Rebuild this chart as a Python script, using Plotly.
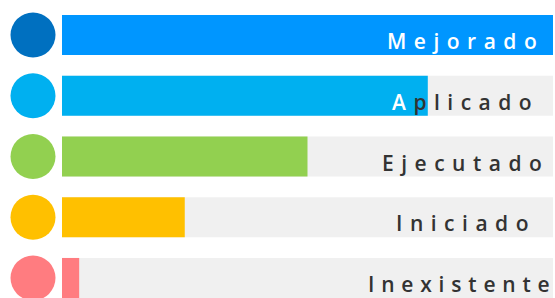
import plotly.graph_objects as go

categories = ["Mejorado", "Aplicado", "Ejecutado", "Iniciado", "Inexistente"]
values = [100, 74.5, 50, 25, 3.5]
max_value = 100
bar_colors = ["#0096ff", "#00b0f0", "#92d050", "#ffc000", "#ff7c80"]
circle_colors = ["#0070c0", "#00b0f0", "#92d050", "#ffc000", "#ff7c80"]
label_colors = ["#ffffff", "#333333", "#333333", "#333333", "#333333"]
label_spacing = [7.5, 7.5, 7.5, 7.5, 6.8]

PX_PER_UNIT = 4.91
X0 = -62 / PX_PER_UNIT
X1 = (555 - 62) / PX_PER_UNIT
CIRCLE_X = (33 - 62) / PX_PER_UNIT

fig = go.Figure()
fig.add_trace(go.Bar(
    y=categories, x=[max_value] * len(categories), orientation="h",
    marker=dict(color="#f0f0f0", line=dict(width=0)), width=0.66,
    hoverinfo="skip", showlegend=False,
))
fig.add_trace(go.Bar(
    y=categories, x=values, orientation="h",
    marker=dict(color=bar_colors, line=dict(width=0)), width=0.66,
    showlegend=False,
))
fig.add_trace(go.Scatter(
    y=categories, x=[CIRCLE_X] * len(categories), mode="markers",
    marker=dict(size=45, color=circle_colors, line=dict(width=0)),
    showlegend=False, hoverinfo="skip",
))

for cat, col, sp in zip(categories, label_colors, label_spacing):
    if cat == "Aplicado":
        txt = (f'<span style="letter-spacing:{sp}px"><span style="color:#ffffff">A</span>'
               '<span style="color:#333333">plicado</span></span>')
    else:
        txt = f'<span style="letter-spacing:{sp}px">{cat}</span>'
    label_x = (462 + sp / 2 - 62) / PX_PER_UNIT
    if cat == "Inexistente":
        label_x = (459 + sp / 2 - 62) / PX_PER_UNIT
    fig.add_annotation(
        x=label_x, y=cat, text=txt, showarrow=False, xanchor="center", yanchor="middle",
        yshift=-6, font=dict(family="Open Sans", size=21, color=col, weight=600),
    )

fig.update_layout(
    width=555, height=298, margin=dict(l=0, r=0, t=0, b=0),
    paper_bgcolor="white", plot_bgcolor="white", barmode="overlay",
    xaxis=dict(range=[X0, X1], visible=False, fixedrange=True),
    yaxis=dict(categoryorder="array", categoryarray=categories,
               range=[4.329, -0.576], visible=False, fixedrange=True),
)
fig.write_html("out.html", config={"displayModeBar": False},
               post_script="document.body.style.margin='0';document.body.style.overflow='hidden';")
